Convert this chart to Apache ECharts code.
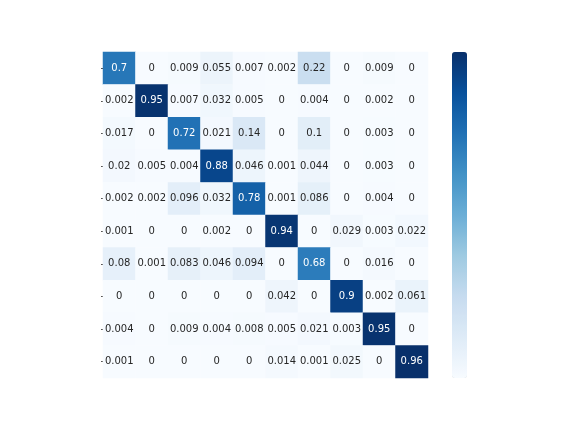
<!DOCTYPE html>
<html>
<head>
<meta charset="utf-8">
<script src="https://cdn.jsdelivr.net/npm/echarts@6/dist/echarts.min.js"></script>
<style>html,body{margin:0;padding:0;background:#fff;}#c{width:576px;height:432px;}</style>
</head>
<body>
<div id="c"></div>
<script>
const classes = ['0','1','2','3','4','5','6','7','8','9'];
const row0 = [0.7, 0, 0.009, 0.055, 0.007, 0.002, 0.22, 0, 0.009, 0];
const row1 = [0.002, 0.95, 0.007, 0.032, 0.005, 0, 0.004, 0, 0.002, 0];
const row2 = [0.017, 0, 0.72, 0.021, 0.14, 0, 0.1, 0, 0.003, 0];
const row3 = [0.02, 0.005, 0.004, 0.88, 0.046, 0.001, 0.044, 0, 0.003, 0];
const row4 = [0.002, 0.002, 0.096, 0.032, 0.78, 0.001, 0.086, 0, 0.004, 0];
const row5 = [0.001, 0, 0, 0.002, 0, 0.94, 0, 0.029, 0.003, 0.022];
const row6 = [0.08, 0.001, 0.083, 0.046, 0.094, 0, 0.68, 0, 0.016, 0];
const row7 = [0, 0, 0, 0, 0, 0.042, 0, 0.9, 0.002, 0.061];
const row8 = [0.004, 0, 0.009, 0.004, 0.008, 0.005, 0.021, 0.003, 0.95, 0];
const row9 = [0.001, 0, 0, 0, 0, 0.014, 0.001, 0.025, 0, 0.96];
const rows = [row0,row1,row2,row3,row4,row5,row6,row7,row8,row9];

const blues = ['#f7fbff','#deebf7','#c6dbef','#9ecae1','#6baed6','#4292c6','#2171b5','#08519c','#08306b'];
let vmax = 0;
rows.forEach(r => r.forEach(v => { if (v > vmax) vmax = v; }));

const data = [];
rows.forEach((r, i) => r.forEach((v, j) => {
  data.push({ value: [j, i, v], label: { color: v / vmax > 0.55 ? '#ffffff' : '#262626' } });
}));

const chart = echarts.init(document.getElementById('c'));
chart.setOption({
  animation: false,
  backgroundColor: '#ffffff',
  grid: { left: 103, top: 52, width: 325, height: 326 },
  xAxis: {
    type: 'category', data: classes,
    axisLine: { show: false }, axisTick: { show: false }, axisLabel: { show: false },
    splitLine: { show: false }
  },
  yAxis: {
    type: 'category', data: classes, inverse: true,
    axisLine: { show: false },
    axisTick: { show: true, length: 2, alignWithLabel: true, lineStyle: { color: '#555' } },
    axisLabel: { show: false }, splitLine: { show: false }
  },
  visualMap: {
    type: 'continuous', min: 0, max: vmax, calculable: false,
    orient: 'vertical', left: 437, top: 37, itemWidth: 15, itemHeight: 326,
    text: null, showLabel: false,
    inRange: { color: blues },
    textStyle: { color: 'transparent' }
  },
  series: [{
    type: 'heatmap', data: data,
    label: { show: true, fontFamily: 'DejaVu Sans', fontSize: 10,
      formatter: p => String(p.value[2]) },
    itemStyle: { borderWidth: 0 },
    emphasis: { disabled: true }
  }]
});
</script>
</body>
</html>
